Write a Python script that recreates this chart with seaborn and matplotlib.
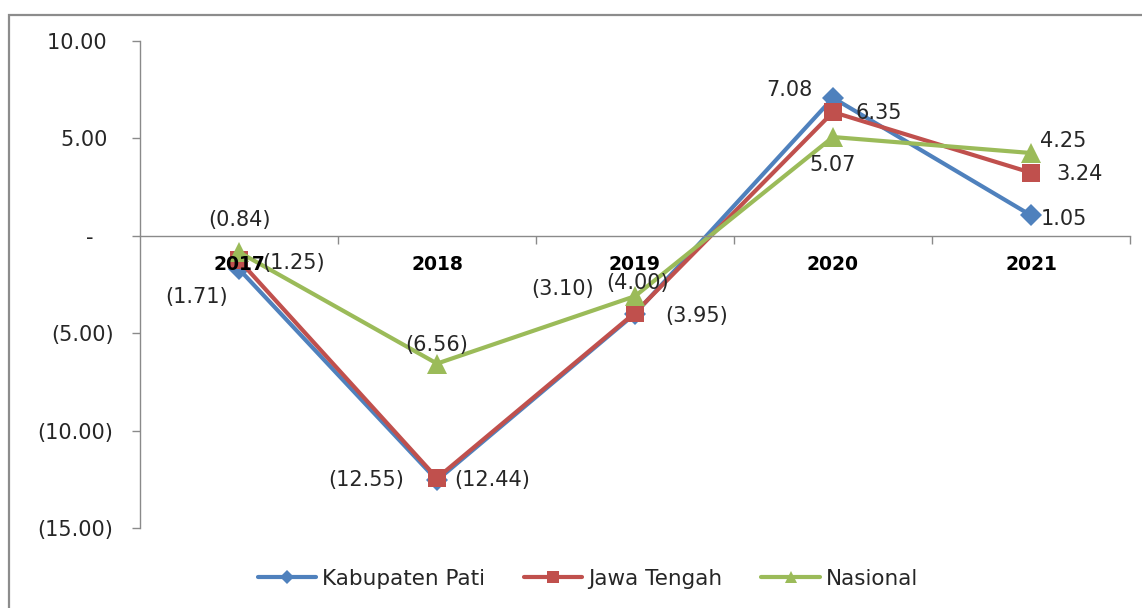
import matplotlib
matplotlib.use("Agg")
import matplotlib.pyplot as plt
import seaborn as sns
import pandas as pd
from matplotlib.patches import Rectangle
from matplotlib.ticker import FixedLocator, FuncFormatter

years = ["2017", "2018", "2019", "2020", "2021"]
pati = [-1.71, -12.55, -4.00, 7.08, 1.05]
jateng = [-1.25, -12.44, -3.95, 6.35, 3.24]
nasional = [-0.84, -6.56, -3.10, 5.07, 4.25]
series_names = ["Kabupaten Pati", "Jawa Tengah", "Nasional"]
y_ticks = [10, 5, 0, -5, -10, -15]

colors = ["#4F81BD", "#C0504D", "#9BBB59"]
markers = ["D", "s", "^"]
msizes = [11, 13, 14]

# label offsets in pixels (dx, dy up)
offsets = [
    [(-42, -28), (-71, 0), (3, 31), (-44, 8), (33, -4)],
    [(55, -3), (55, -2), (62, -3), (46, -1), (49, -1)],
    [(1, 32), (0, 19), (-72, 7), (0, -28), (32, 12)],
]

sns.set_theme(style="white")
plt.rcParams["font.family"] = ["DejaVu Sans"]

fig = plt.figure(figsize=(11.42, 6.08), dpi=100)
ax = fig.add_axes([140/1142, 1-528/608, (1130-140)/1142, (528-41)/608])

df = pd.DataFrame({
    "pos": list(range(len(years))) * 3,
    "value": pati + jateng + nasional,
    "series": sum([[n] * len(years) for n in series_names], []),
})

for i, name in enumerate(series_names):
    sub = df[df["series"] == name]
    sns.lineplot(data=sub, x="pos", y="value", ax=ax, color=colors[i],
                 marker=markers[i], markersize=msizes[i], linewidth=3,
                 markeredgewidth=0, markeredgecolor=colors[i], label=name,
                 zorder=2 + 0.1 * i)

px = 72 / 100.0

def fmt(v):
    return f"({abs(v):.2f})" if v < 0 else f"{v:.2f}"

for i, vals in enumerate([pati, jateng, nasional]):
    for j, v in enumerate(vals):
        dx, dy = offsets[i][j]
        ax.annotate(fmt(v), xy=(j, v), xytext=(dx * px, dy * px),
                    textcoords="offset points", ha="center", va="center",
                    fontsize=15, color="#262626", zorder=10)

ax.set_xlim(-0.5, len(years) - 0.5)
ax.set_ylim(-15, 10)
ax.set_xlabel("")
ax.set_ylabel("")

ax.spines["top"].set_visible(False)
ax.spines["right"].set_visible(False)
ax.spines["bottom"].set_position(("data", 0))
for s in ["left", "bottom"]:
    ax.spines[s].set_color("#8a8a8a")
    ax.spines[s].set_linewidth(1.0)

ax.set_xticks(range(len(years)))
ax.set_xticklabels(years, fontsize=13.5, fontweight="bold", color="black")
ax.xaxis.set_minor_locator(FixedLocator([k + 0.5 for k in range(len(years))]))
ax.tick_params(axis="x", which="major", length=0, pad=14)
ax.tick_params(axis="x", which="minor", length=6, width=1, color="#8a8a8a",
               direction="out", bottom=True)

def yfmt(v, p):
    if abs(v) < 1e-9:
        return "-   "
    return f"({abs(v):.2f})" if v < 0 else f"{v:.2f} "

ax.set_yticks(y_ticks)
ax.yaxis.set_major_formatter(FuncFormatter(yfmt))
ax.tick_params(axis="y", length=6, width=1, color="#8a8a8a", pad=13,
               labelsize=15, labelcolor="#262626", left=True)
ax.set_axisbelow(False)
ax.grid(False)

leg = ax.legend(loc="center", bbox_to_anchor=(588/1142, 1-579/608),
                bbox_transform=fig.transFigure, ncol=3, frameon=False,
                prop={"family": "DejaVu Sans", "size": 15.5}, handlelength=2.7,
                columnspacing=1.8, handletextpad=0.3, markerscale=0.65)

fig.patches.append(Rectangle((9/1142, -0.1), 1.2, 1.1 - 15/608,
                             transform=fig.transFigure, fill=False,
                             edgecolor="#8c8c8c", linewidth=1.6))

fig.savefig("out.png", dpi=100)
